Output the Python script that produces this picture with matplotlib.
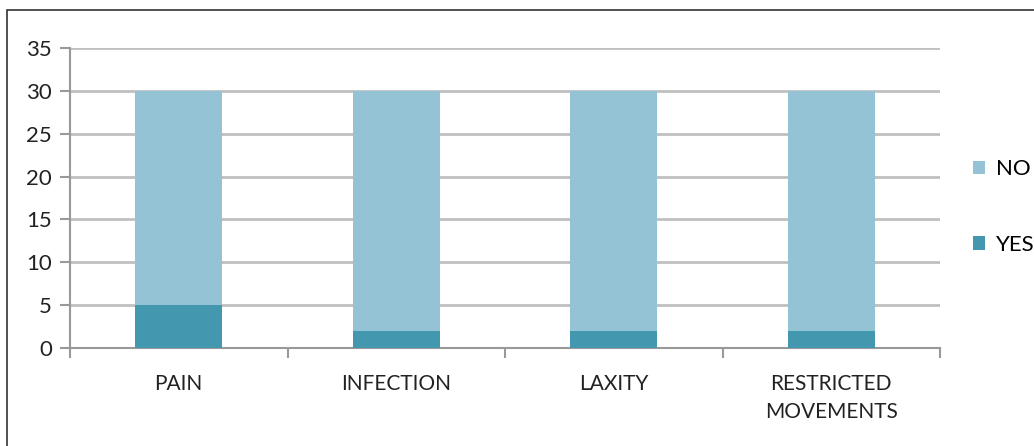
import matplotlib.pyplot as plt
from matplotlib.patches import Rectangle

categories = ['PAIN', 'INFECTION', 'LAXITY', 'RESTRICTED\nMOVEMENTS']
yes_vals = [5, 2, 2, 2]
no_vals = [25, 28, 28, 28]

plt.rcParams['font.family'] = ['Lato', 'DejaVu Sans']

fig = plt.figure(figsize=(10.34, 4.46), dpi=100)
ax = fig.add_axes([70 / 1034, 1 - 348 / 446, 870 / 1034, 300 / 446])

x = range(len(categories))
ax.bar(x, yes_vals, width=0.4, color='#4398b0', label='YES', zorder=3)
ax.bar(x, no_vals, width=0.4, bottom=yes_vals, color='#94c3d5', label='NO', zorder=3)

ax.set_xlim(-0.5, 3.5)
ax.set_ylim(0, 35)
ax.set_yticks(range(0, 36, 5))
ax.yaxis.grid(True, color='#c0c0c0', linewidth=2, zorder=0)
ax.set_axisbelow(True)

ax.set_xticks([i - 0.5 for i in range(5)], minor=False)
ax.set_xticklabels([])
ax.set_xticks(list(x), minor=True)
ax.set_xticklabels(categories, minor=True, fontsize=15, color='#222222', linespacing=1.45)
ax.tick_params(axis='x', which='major', direction='out', length=7, color='#999999', width=1.5)
ax.tick_params(axis='x', which='minor', length=0, pad=19)
ax.tick_params(axis='y', direction='out', length=7, color='#999999', width=1.5,
               labelsize=16, labelcolor='#222222', pad=6)

for s in ['top', 'right']:
    ax.spines[s].set_visible(False)
for s in ['left', 'bottom']:
    ax.spines[s].set_color('#999999')
    ax.spines[s].set_linewidth(1.5)

h, l = ax.get_legend_handles_labels()
fig.legend(h[::-1], l[::-1], loc='center left', bbox_to_anchor=(962 / 1034, 1 - 207 / 446),
           frameon=False, fontsize=16, handlelength=0.55, handleheight=0.55,
           labelspacing=2.5, handletextpad=0.5, borderpad=0)

fig.patches.append(Rectangle((7 / 1034, -0.1), 1.2, 1 - 10 / 446 + 0.1,
                             transform=fig.transFigure, fill=False,
                             edgecolor='#333333', linewidth=1.2))

fig.savefig('out.png', dpi=100)
